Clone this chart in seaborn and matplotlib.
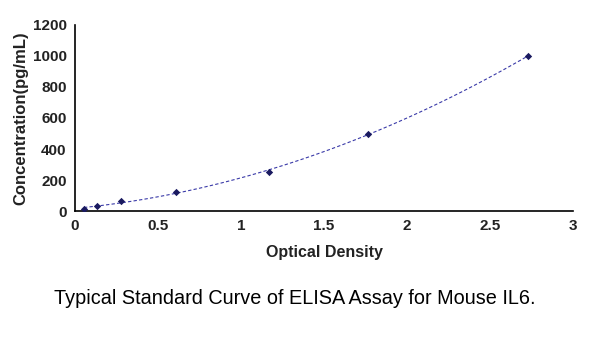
import matplotlib
matplotlib.use("Agg")
import matplotlib.pyplot as plt
import seaborn as sns
import pandas as pd

od = [0.054, 0.135, 0.28, 0.61, 1.17, 1.765, 2.73]
conc = [15.6, 31.25, 62.5, 125, 250, 500, 1000]
xticks = [0, 0.5, 1, 1.5, 2, 2.5, 3]
yticks = [0, 200, 400, 600, 800, 1000, 1200]

sns.set_theme(style="white")
plt.rcParams['font.family'] = ['Liberation Sans', 'DejaVu Sans']

df = pd.DataFrame({"od": od, "conc": conc})

fig = plt.figure(figsize=(6.0, 3.41), dpi=100)
ax = fig.add_axes([0.125, 0.381, 0.83, 0.546])

sns.regplot(data=df, x="od", y="conc", order=2, ci=None, truncate=True,
            scatter=False, ax=ax,
            line_kws=dict(color="#3a3aa8", lw=0.8, ls=(0, (3, 2))))
sns.scatterplot(data=df, x="od", y="conc", ax=ax, marker="D", s=14,
                color="#1a1a60", edgecolor="#1a1a60", linewidth=0, zorder=3)

ax.set_xlim(0, 3)
ax.set_ylim(0, 1200)
ax.set_xticks(xticks)
ax.set_xticklabels([f"{t:g}" for t in xticks])
ax.set_yticks(yticks)
ax.set_yticklabels([str(t) for t in yticks])
for s in ["top", "right"]:
    ax.spines[s].set_visible(False)
for s in ["left", "bottom"]:
    ax.spines[s].set_color("black")
    ax.spines[s].set_linewidth(1.2)
ax.tick_params(axis="both", direction="in", length=4, width=1, color="black",
               labelsize=11, pad=6, labelcolor="#222222")
for lab in ax.get_xticklabels() + ax.get_yticklabels():
    lab.set_fontweight("bold")
ax.set_xlabel("Optical Density", fontsize=11.5, fontweight="bold", labelpad=8,
              color="#222222")
ax.set_ylabel("Concentration(pg/mL)", fontsize=12, fontweight="bold", labelpad=3,
              color="#222222")

fig.text(0.492, 0.125, "Typical Standard Curve of ELISA Assay for Mouse IL6.",
         ha="center", va="center", fontsize=14.3, color="black")

fig.savefig("out.png", dpi=100, facecolor="white")
